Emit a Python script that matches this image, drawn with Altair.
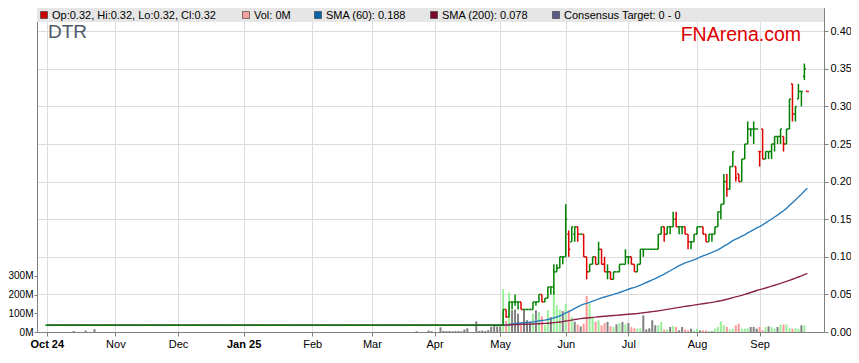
import altair as alt
import pandas as pd

# ---------------- data ----------------
first_day = "2024-10-01"
last_day = "2025-09-23"
month_labels = ["Oct 24", "Nov", "Dec", "Jan 25", "Feb", "Mar", "Apr", "May", "Jun", "Jul", "Aug", "Sep"]
bold_labels = ["Oct 24", "Jan 25"]

pre_may_days = 152
pre_may_price = 0.009
pre_may_volume_m = {9: 5, 13: 8, 16: 15, 124: 4, 128: 8, 129: 5, 132: 25, 133: 6, 134: 5,
                    135: 6, 136: 4, 137: 5, 138: 6, 139: 4, 140: 14, 141: 20, 144: 57,
                    145: 6, 146: 8, 147: 5, 148: 10, 149: 28, 150: 32, 151: 30}

open_ = [.009, .009, .030, .020, .040, .040, .040, .040, .030, .030,
         .030, .030, .040, .040, .050, .040, .045, .060, .060, .080,
         .085, .100, .100, .130, .120, .130, .140, .130, .130, .100,
         .080, .090, .100, .090, .110, .090, .080, .080, .070, .080,
         .080, .090, .090, .100, .100, .090, .080, .090, .110, .110,
         .110, .110, .110, .110, .130, .140, .130, .140, .140, .150,
         .140, .140, .140, .130, .120, .120, .130, .140, .140, .130,
         .120, .130, .130, .140, .160, .170, .200, .190, .220, .220,
         .210, .200, .230, .250, .270, .270, .270, .240, .270, .230,
         .240, .240, .250, .260, .260, .260, .250, .270, .330, .290,
         .310, .320, .340, .320]
high = [.009, .030, .030, .040, .040, .050, .040, .040, .030, .030,
        .030, .040, .040, .050, .050, .045, .060, .060, .090, .090,
        .100, .100, .170, .135, .140, .140, .140, .130, .130, .100,
        .090, .100, .100, .120, .110, .100, .090, .080, .080, .080,
        .090, .090, .110, .100, .100, .090, .090, .110, .110, .110,
        .110, .110, .110, .130, .140, .140, .140, .140, .160, .160,
        .140, .140, .140, .130, .120, .130, .140, .140, .140, .130,
        .130, .130, .140, .160, .170, .210, .210, .220, .240, .220,
        .210, .230, .250, .280, .270, .280, .270, .240, .270, .240,
        .240, .250, .260, .260, .270, .260, .270, .310, .330, .300,
        .330, .320, .357, .320]
low = [.009, .009, .019, .020, .030, .035, .030, .030, .030, .030,
       .030, .030, .035, .040, .040, .040, .045, .050, .050, .080,
       .085, .090, .100, .100, .120, .120, .120, .130, .100, .070,
       .080, .090, .090, .090, .090, .080, .070, .070, .070, .080,
       .080, .090, .090, .090, .090, .080, .080, .090, .100, .110,
       .110, .110, .110, .110, .130, .120, .130, .130, .140, .140,
       .130, .130, .130, .110, .110, .120, .130, .140, .130, .120,
       .120, .120, .130, .140, .150, .170, .180, .190, .220, .200,
       .200, .200, .230, .250, .260, .250, .270, .220, .230, .230,
       .230, .230, .240, .250, .250, .240, .250, .270, .280, .280,
       .310, .300, .335, .320]
close = [.009, .030, .020, .040, .040, .040, .040, .030, .030, .030,
         .030, .040, .040, .050, .040, .045, .060, .060, .080, .085,
         .100, .100, .150, .110, .140, .140, .130, .130, .100, .080,
         .090, .100, .090, .110, .090, .080, .080, .070, .080, .080,
         .090, .090, .100, .100, .090, .080, .090, .110, .110, .110,
         .110, .110, .110, .130, .140, .130, .140, .140, .150, .140,
         .140, .140, .130, .120, .120, .130, .140, .140, .130, .120,
         .130, .130, .140, .160, .170, .200, .190, .220, .240, .205,
         .200, .230, .250, .270, .270, .270, .270, .240, .230, .240,
         .240, .250, .260, .260, .270, .250, .270, .310, .290, .300,
         .320, .320, .350, .320]
volume_m = [30, 229, 60, 211, 116, 120, 98, 36, 120, 63,
            54, 98, 116, 107, 84, 39, 116, 80, 214, 143,
            120, 112, 152, 116, 80, 55, 40, 30, 45, 193,
            152, 80, 55, 63, 36, 48, 54, 30, 27, 41,
            48, 54, 41, 48, 27, 20, 18, 20, 89, 14,
            20, 63, 36, 36, 54, 13, 13, 27, 32, 27,
            9, 27, 14, 9, 18, 9, 18, 9, 9, 9,
            5, 4, 18, 27, 57, 36, 27, 13, 18, 36,
            45, 18, 18, 20, 27, 27, 18, 27, 9, 27,
            30, 27, 18, 27, 39, 41, 41, 20, 18, 20,
            18, 36, 36, 0]

legend_labels = ["Op:0.32, Hi:0.32, Lo:0.32, Cl:0.32", "Vol: 0M", "SMA (60): 0.188",
                 "SMA (200): 0.078", "Consensus Target: 0 - 0"]

# ---------------- table ----------------
dates = pd.bdate_range(first_day, last_day)
n = len(dates)
tick_idx = [i for i in range(n) if i == 0 or dates[i].month != dates[i - 1].month]

o = [pre_may_price] * pre_may_days + open_
h = [pre_may_price] * pre_may_days + high
lo = [pre_may_price] * pre_may_days + low
c = [pre_may_price] * pre_may_days + close
v = [pre_may_volume_m.get(i, 0) for i in range(pre_may_days)] + volume_m

df = pd.DataFrame({"i": list(range(n)), "open": o, "high": h, "low": lo, "close": c,
                   "volume": [x * 1e6 for x in v]})
prev = df["close"].shift(1).fillna(df["close"])
df["dir"] = ["down" if cc < pp else "up" for cc, pp in zip(df["close"], prev)]
df["vdir"] = ["up" if cc > pp else ("down" if cc < pp else "flat") for cc, pp in zip(df["close"], prev)]

# ---------------- chart ----------------
W, H = 787, 324
FONT = "Liberation Sans"
GREEN, RED = "#008000", "#e00000"
BLUE, MAROON = "#2a7dbd", "#8a2449"

label_expr = ("[" + ",".join("'%s'" % s for s in month_labels) + "][indexof(["
              + ",".join(str(t) for t in tick_idx) + "], datum.value)]")
bold_idx = [tick_idx[month_labels.index(b)] for b in bold_labels]
weight_expr = "indexof([" + ",".join(str(b) for b in bold_idx) + "], datum.value) >= 0 ? 'bold' : 'normal'"

xenc = alt.X("i:Q", title=None,
             scale=alt.Scale(domain=[-1.6, 258.9], nice=False, zero=False),
             axis=alt.Axis(values=tick_idx, labelExpr=label_expr,
                           labelFontWeight={"expr": weight_expr},
                           grid=True, tickSize=4, labelPadding=2, labelFontSize=11,
                           labelFlush=False, labelOverlap=False))

pscale = alt.Scale(domain=[0, 0.4309], nice=False, zero=True)
paxis = alt.Axis(orient="right", values=[0, .05, .10, .15, .20, .25, .30, .35, .40],
                 format=".2f", grid=True, tickSize=4, labelPadding=2, labelFontSize=11)

def py(field):
    return alt.Y(field, title=None, scale=pscale, axis=paxis)

dcolor = alt.Color("dir:N", legend=None,
                   scale=alt.Scale(domain=["up", "down"], range=[GREEN, RED]))

base = alt.Chart(df)

vol = base.transform_filter("datum.volume > 0").mark_bar(size=2).encode(
    x=xenc,
    y=alt.Y("volume:Q", title=None,
            scale=alt.Scale(domain=[0, 1735e6], nice=False),
            axis=alt.Axis(orient="left", values=[0, 1e8, 2e8, 3e8],
                          labelExpr="format(datum.value / 1000000, 'd') + 'M'",
                          grid=False, tickSize=3, labelPadding=1, labelFontSize=10)),
    color=alt.Color("vdir:N", legend=None,
                    scale=alt.Scale(domain=["up", "down", "flat"],
                                    range=["#99ee99", "#ff9999", "#808080"])),
)

sma60 = base.transform_window(sma60="mean(close)", frame=[-59, 0], sort=[{"field": "i"}]).mark_line(
    color=BLUE, strokeWidth=1.4).encode(x=xenc, y=py("sma60:Q"))
sma200 = base.transform_window(sma200="mean(close)", frame=[-199, 0], sort=[{"field": "i"}]).mark_line(
    color=MAROON, strokeWidth=1.4).encode(x=xenc, y=py("sma200:Q"))
hl = base.mark_rule(strokeWidth=1.5).encode(x=xenc, y=py("low:Q"), y2="high:Q", color=dcolor)
op = base.transform_calculate(x0="datum.i - 0.5").mark_rule(strokeWidth=1.5).encode(
    x="x0:Q", x2="i:Q", y=py("open:Q"), color=dcolor)
cl = base.transform_calculate(x1="datum.i + 0.5").mark_rule(strokeWidth=1.5).encode(
    x="i:Q", x2="x1:Q", y=py("close:Q"), color=dcolor)

price = alt.layer(sma60, sma200, hl, op, cl)

one = pd.DataFrame({"k": [0]})
band = alt.Chart(one).mark_rect(color="#e6e6e6").encode(
    x=alt.value(0), x2=alt.value(W), y=alt.value(0), y2=alt.value(14))

legend_colors = ["#cc0000", "#f4a0a0", "#0a64a8", "#7a0a2a", "#5a5a85"]
legend_box_x = [7, 209, 281, 397, 519]
overlays = [band]
for lab, col, bx in zip(legend_labels, legend_colors, legend_box_x):
    overlays.append(alt.Chart(one).mark_rect(color=col, stroke="#333333", strokeWidth=0.6).encode(
        x=alt.value(bx - 3.5), x2=alt.value(bx + 3.5), y=alt.value(3.5), y2=alt.value(10.5)))
    overlays.append(alt.Chart(pd.DataFrame({"t": [lab]})).mark_text(
        align="left", baseline="middle", font=FONT, fontSize=11, color="#000000").encode(
        x=alt.value(bx + 8), y=alt.value(7.5), text="t:N"))

overlays.append(alt.Chart(pd.DataFrame({"t": ["DTR"]})).mark_text(
    align="left", baseline="middle", font=FONT, fontSize=19, color="#4d5869").encode(
    x=alt.value(11), y=alt.value(24), text="t:N"))
overlays.append(alt.Chart(pd.DataFrame({"t": ["FNArena.com"]})).mark_text(
    align="right", baseline="middle", font=FONT, fontSize=19.5, color="#dd0000").encode(
    x=alt.value(W - 23), y=alt.value(26.5), text="t:N"))

chart = alt.layer(vol, price, *overlays).resolve_scale(
    y="independent", color="independent"
).properties(
    width=W, height=H, autosize="none",
    padding={"left": 29, "top": 0, "right": 27, "bottom": 19},
).configure_view(
    stroke="#a0a0a0", strokeWidth=1
).configure_axis(
    labelFont=FONT, labelColor="#000000", domainColor="#808080", tickColor="#808080",
    gridColor="#dcdcdc", gridWidth=1
)

chart.save("out.html", embed_options={"renderer": "svg", "actions": False})
